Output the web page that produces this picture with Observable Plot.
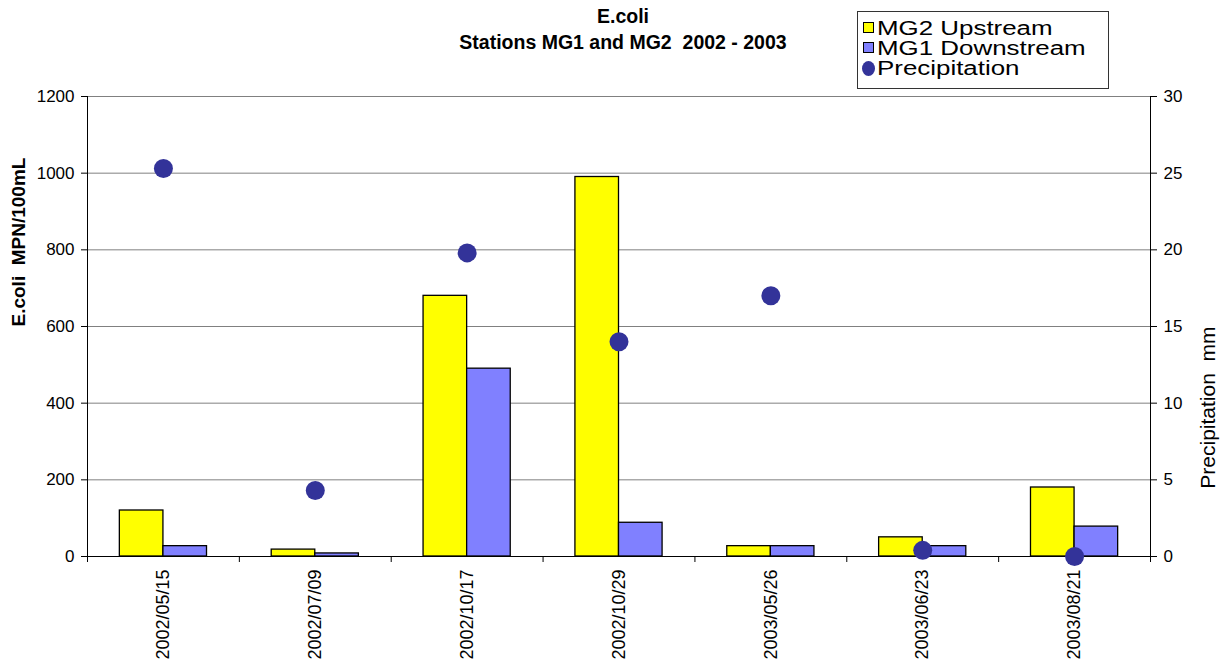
<!DOCTYPE html>
<html>
<head>
<meta charset="utf-8">
<script src="https://cdn.jsdelivr.net/npm/d3@7"></script>
<script src="https://cdn.jsdelivr.net/npm/@observablehq/plot@0.6"></script>
<style>
  html, body { margin: 0; padding: 0; background: #fff; }
  #wrap { position: relative; width: 1228px; height: 669px; font-family: "Liberation Sans", Arial, sans-serif; }
  #title { position: absolute; left: 323px; top: 3px; width: 600px; text-align: center; font-weight: bold; font-size: 19.5px; line-height: 26px; color: #000; }
  #legend { position: absolute; left: 857px; top: 11px; width: 252px; height: 78px; box-sizing: border-box; border: 1px solid #333; background: #fff; }
  .row { position: absolute; left: 0; height: 20px; width: 250px; }
  .sw { position: absolute; left: 5px; top: 4px; width: 9px; height: 9px; border: 1.5px solid #000; }
  .dotsw { position: absolute; left: 4px; top: 3px; width: 13px; height: 15px; border-radius: 50%; background: #333399; }
  .lt { position: absolute; left: 19px; top: 0px; font-size: 17.5px; line-height: 20px; white-space: nowrap; transform: scale(1.48, 1.12); transform-origin: 0 50%; color: #000; }
</style>
</head>
<body>
<div id="wrap">
  <div id="chart"></div>
  <div id="title">E.coli<br>Stations MG1 and MG2&nbsp; 2002 - 2003</div>
  <div id="legend"></div>
</div>
<script>
// ---- data ----
const dates = ["2002/05/15", "2002/07/09", "2002/10/17", "2002/10/29", "2003/05/26", "2003/06/23", "2003/08/21"];
const mg2Upstream = [120, 18, 680, 990, 27, 50, 180];
const mg1Downstream = [27, 8, 490, 88, 27, 27, 78];
const precipitation = [25.3, 4.3, 19.8, 14.0, 17.0, 0.4, 0.0];
const leftTicks = [0, 200, 400, 600, 800, 1000, 1200];
const rightTicks = [0, 5, 10, 15, 20, 25, 30];
const seriesNames = ["MG2 Upstream", "MG1 Downstream", "Precipitation"];
const seriesColors = ["#FFFF00", "#8080FF", "#333399"];

// ---- layout ----
const W = 1228, H = 669;
const mL = 87, mR = 78, mT = 96, mB = 113;
const plotW = W - mL - mR, plotH = H - mT - mB;
const step = plotW / dates.length;
const pScale = 1200 / 30; // right axis (mm) mapped onto left axis

const rows = dates.map((d, i) => ({date: d, up: mg2Upstream[i], down: mg1Downstream[i], p: precipitation[i]}));

const chart = Plot.plot({
  width: W, height: H,
  marginLeft: mL, marginRight: mR, marginTop: mT, marginBottom: mB,
  style: {fontFamily: "'Liberation Sans', Arial, sans-serif", background: "transparent", color: "#000", overflow: "visible"},
  x: {domain: dates, padding: 0, round: false, axis: null},
  y: {domain: [0, 1200], axis: null},
  marks: [
    Plot.ruleY(leftTicks.filter(t => t > 0), {stroke: "#808080", strokeWidth: 1}),
    Plot.barY(rows, {x: "date", y: "up", fill: seriesColors[0], stroke: "#000", strokeWidth: 1.3, insetLeft: step * 0.213, insetRight: step * 0.5}),
    Plot.barY(rows, {x: "date", y: "down", fill: seriesColors[1], stroke: "#000", strokeWidth: 1.3, insetLeft: step * 0.5, insetRight: step * 0.213}),
    Plot.ruleY([0], {stroke: "#000", strokeWidth: 1}),
    Plot.ruleX([dates[0]], {x: d => d, dx: -step / 2, insetBottom: -6, stroke: "#000"}),
    Plot.ruleX([dates[dates.length - 1]], {x: d => d, dx: step / 2, insetBottom: -6, stroke: "#000"}),
    Plot.ruleX(dates.slice(1), {x: d => d, dx: -step / 2, insetTop: plotH, insetBottom: -6, stroke: "#000"}),
    Plot.dot(rows, {x: "date", y: d => d.p * pScale, r: 9.5, fill: seriesColors[2], stroke: "none"}),
    Plot.axisY(leftTicks, {anchor: "left", tickSize: 6, tickPadding: 7, fontSize: 17, label: null, tickFormat: d => String(d)}),
    Plot.axisY(rightTicks.map(t => t * pScale), {anchor: "right", tickSize: 6, tickPadding: 7, fontSize: 17, label: null, tickFormat: d => String(d / pScale)}),
    Plot.axisX(dates, {tickSize: 0, tickPadding: 13, tickRotate: -90, fontSize: 18, label: null}),
    Plot.text(["E.coli  MPN/100mL"], {frameAnchor: "left", dx: -69, rotate: -90, fontWeight: "bold", fontSize: 19, fill: "#000"}),
    Plot.text(["Precipitation  mm"], {frameAnchor: "right", dx: 58, rotate: -90, fontSize: 21, fill: "#000"})
  ]
});
document.getElementById("chart").appendChild(chart);

// ---- legend ----
const legend = document.getElementById("legend");
seriesNames.forEach((name, i) => {
  const row = document.createElement("div");
  row.className = "row";
  row.style.top = (6 + i * 20) + "px";
  const sw = document.createElement("div");
  sw.className = i < 2 ? "sw" : "dotsw";
  sw.style.background = seriesColors[i];
  const t = document.createElement("span");
  t.className = "lt";
  t.textContent = name;
  row.appendChild(sw);
  row.appendChild(t);
  legend.appendChild(row);
});
</script>
</body>
</html>
